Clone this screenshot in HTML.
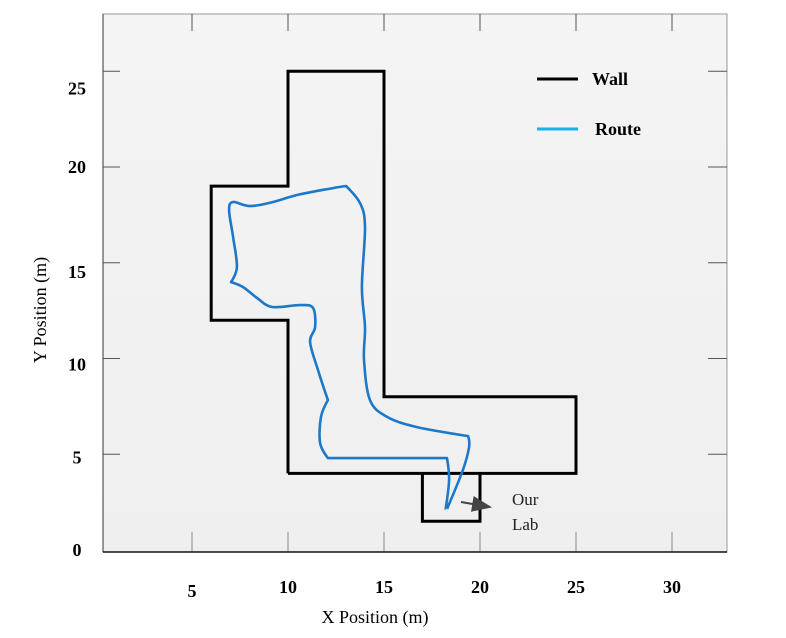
<!DOCTYPE html>
<html><head><meta charset="utf-8"><style>
html,body{margin:0;padding:0;background:#fff;}
svg{display:block;font-family:"Liberation Serif",serif;}
</style></head><body>
<svg id="chart" width="786" height="638" viewBox="0 0 786 638">
<defs>
<linearGradient id="bg" x1="0" y1="0" x2="0" y2="1"><stop offset="0" stop-color="#f4f4f4"/><stop offset="1" stop-color="#efefef"/></linearGradient>
<marker id="arr" markerWidth="10" markerHeight="8" refX="9" refY="4" orient="auto"><path d="M0,0 L10,4 L0,8 z" fill="#444"/></marker>
</defs>
<rect x="103" y="14" width="624" height="538" fill="url(#bg)" stroke="#999" stroke-width="1"/>
<line x1="103" y1="14" x2="103" y2="552" stroke="#333" stroke-width="1"/>
<g id="ticks"></g>
<g id="marks"></g>
<line x1="103" y1="552" x2="727" y2="552" stroke="#111" stroke-width="1.5"/>
<g>
<line x1="537" y1="79" x2="578" y2="79" stroke="#000" stroke-width="3"/>
<text x="592" y="85" font-size="18" font-weight="bold">Wall</text>
<line x1="537" y1="129" x2="578" y2="129" stroke="#1ab0ee" stroke-width="3"/>
<text x="595" y="135" font-size="18" font-weight="bold">Route</text>
</g>
<line x1="461" y1="502" x2="490" y2="507" stroke="#444" stroke-width="2" marker-end="url(#arr)"/>
<text x="512" y="505" font-size="17" fill="#222">Our</text>
<text x="512" y="530" font-size="17" fill="#222">Lab</text>
<text x="375" y="623" font-size="18" text-anchor="middle">X Position (m)</text>
<text transform="translate(46,310) rotate(-90)" font-size="18" text-anchor="middle">Y Position (m)</text>
</svg>
<script>
const xTicks=[5,10,15,20,25,30];
const yTicks=[0,5,10,15,20,25];
const wallX=[10,10,6,6,10,10,15,15,25,25,10];
const wallY=[4,12,12,19,19,25,25,8,8,4,4];
const labX=[17,17,20,20];
const labY=[4,1.5,1.5,4];
const routeX=[18.21,18.39,18.28,12.08,11.67,11.72,12.08,11.56,11.15,11.41,11.30,10.63,9.17,8.39,7.66,7.03,7.34,7.14,6.93,7.14,8.02,9.22,10.47,12.34,13.02,13.75,14.01,13.85,14.01,13.96,14.27,15.16,16.72,19.38,19.43,19.11,18.28];
const routeY=[2.13,3.66,4.80,4.80,5.59,6.95,7.83,9.40,10.86,11.64,12.64,12.79,12.69,13.16,13.73,13.99,14.78,16.34,17.75,18.17,17.96,18.17,18.54,18.90,19.01,18.12,16.87,13.73,11.64,9.92,7.83,6.95,6.42,5.95,5.38,4.18,2.14];
const NS='http://www.w3.org/2000/svg';
const sx=v=>96+v*19.2;
const sy=v=>550-v*19.15;
const labelShift={0:0,5:3,10:6,15:9,20:0,25:17};
const tg=document.getElementById('ticks'),mg=document.getElementById('marks');
function mk(tag,attrs,parent){const e=document.createElementNS(NS,tag);for(const k in attrs)e.setAttribute(k,attrs[k]);parent.appendChild(e);return e;}
xTicks.forEach(t=>{
  let l=mk('line',{x1:sx(t),x2:sx(t),y1:532,y2:552,stroke:'#888','stroke-width':1},tg);
  
  
  let l2=mk('line',{x1:sx(t),x2:sx(t),y1:14,y2:31,stroke:'#555','stroke-width':1},tg);
  
  
  let tx=mk('text',{x:sx(t),y:t===5?597:593,'font-size':18,'font-weight':'bold','text-anchor':'middle'},tg);
  tx.textContent=t;
  
  
});
yTicks.forEach(t=>{
  if(t>0){
    let l=mk('line',{x1:103,x2:120,y1:sy(t),y2:sy(t),stroke:'#555','stroke-width':1},tg);
    
    
    let l2=mk('line',{x1:708,x2:727,y1:sy(t),y2:sy(t),stroke:'#555','stroke-width':1},tg);
    
    
  }
  let tx=mk('text',{x:77,y:sy(t)+6+(labelShift[t]||0),'font-size':18,'font-weight':'bold','text-anchor':'middle'},tg);
  tx.textContent=t;
  
  
});
let wp=wallX.map((v,i)=>sx(v)+','+sy(wallY[i])).join(' ');
let w=mk('polyline',{points:wp,fill:'none',stroke:'#000','stroke-width':3,'stroke-linejoin':'miter'},mg);


let lp=labX.map((v,i)=>sx(v)+','+sy(labY[i])).join(' ');
let lb=mk('polyline',{points:lp,fill:'none',stroke:'#000','stroke-width':3},mg);


const P=routeX.map((v,i)=>[sx(v),sy(routeY[i])]);
const corner=new Set([0,2,3,6,15,24,33,P.length-1]);
let d='M'+P[0][0]+','+P[0][1];
for(let i=0;i<P.length-1;i++){
  const p0=P[i-1]||P[i],p1=P[i],p2=P[i+1],p3=P[i+2]||P[i+1];
  const straight=(i===2);
  const k1=(corner.has(i)||straight)?0:1/6, k2=(corner.has(i+1)||straight)?0:1/6;
  const c1=[p1[0]+(p2[0]-p0[0])*k1,p1[1]+(p2[1]-p0[1])*k1];
  const c2=[p2[0]-(p3[0]-p1[0])*k2,p2[1]-(p3[1]-p1[1])*k2];
  d+=' C'+c1[0].toFixed(1)+','+c1[1].toFixed(1)+' '+c2[0].toFixed(1)+','+c2[1].toFixed(1)+' '+p2[0].toFixed(1)+','+p2[1].toFixed(1);
}
let r=mk('path',{d:d,fill:'none',stroke:'#1c78c8','stroke-width':2.6,'stroke-linejoin':'round'},mg);


</script>
</body></html>
